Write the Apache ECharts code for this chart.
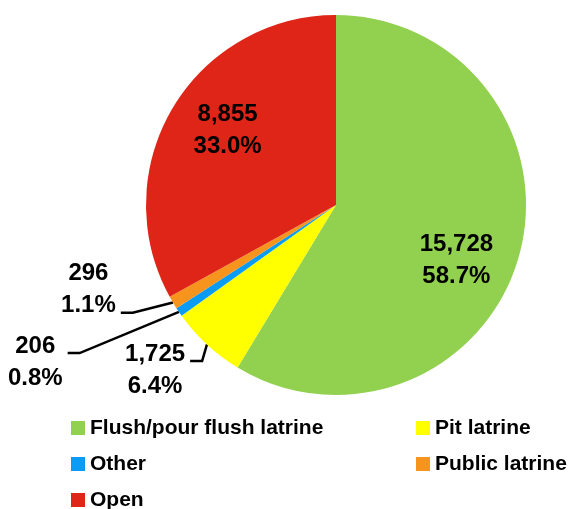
<!DOCTYPE html>
<html><head><meta charset="utf-8">
<script src="https://cdn.jsdelivr.net/npm/echarts@6/dist/echarts.min.js"></script>
<style>html,body{margin:0;padding:0;background:#fff}#c{width:568px;height:509px}</style>
</head><body><div id="c"></div>
<script>
// Data
const categories = ['Flush/pour flush latrine', 'Pit latrine', 'Other', 'Public latrine', 'Open'];
const values = [15728, 1725, 206, 296, 8855];
const colors = ['#92D050', '#FFFF00', '#0A9CF5', '#F7941D', '#DF2517'];
const legendCol1 = ['Flush/pour flush latrine', 'Other', 'Open'];
const legendCol2 = ['Pit latrine', 'Public latrine'];

const FONT = '"Liberation Sans", Arial, sans-serif';

// Label styling per slice (layout only)
const labelCfg = {
  'Flush/pour flush latrine': { label: { position: 'inside', offset: [26, 29] } },
  'Pit latrine': { label: { position: 'outside', padding: [18, 0, 0, 0] }, labelLine: { length: 22.6, length2: 1.5 } },
  'Other': { label: { position: 'outside', padding: [18, 0, 0, 0] }, labelLine: { length: 73, length2: 51 } },
  'Public latrine': { label: { position: 'outside', padding: [0, 0, 46, 0] }, labelLine: { length: 20, length2: 35 } },
  'Open': { label: { position: 'inside', offset: [-24, -25] } }
};
const HSEG = 12; // horizontal part of leader lines

const fmt = v => v.toLocaleString('en-US');

const data = categories.map((name, i) => Object.assign({
  name: name,
  value: values[i],
  itemStyle: { color: colors[i] }
}, labelCfg[name]));

const chart = echarts.init(document.getElementById('c'), null, { renderer: 'canvas' });
const legendBase = {
  orient: 'vertical',
  icon: 'rect',
  itemWidth: 14,
  itemHeight: 14,
  itemGap: 14,
  top: 412,
  height: 100,
  textStyle: { fontFamily: FONT, fontWeight: 'bold', fontSize: 21, color: '#000', lineHeight: 22 },
  selectedMode: false
};
chart.setOption({
  animation: false,
  backgroundColor: '#fff',
  legend: [
    Object.assign({}, legendBase, { left: 66, data: legendCol1 }),
    Object.assign({}, legendBase, { left: 411, data: legendCol2 })
  ],
  series: [{
    type: 'pie',
    center: [336, 205],
    radius: 190,
    startAngle: 90,
    clockwise: true,
    avoidLabelOverlap: false,
    percentPrecision: 1,
    itemStyle: { borderWidth: 0 },
    label: {
      show: true,
      color: '#000',
      fontFamily: FONT,
      fontWeight: 'bold',
      fontSize: 24,
      lineHeight: 32,
      formatter: p => '{a|' + fmt(p.value) + '}\n{a|' + p.percent.toFixed(1) + '%}',
      rich: {
        a: { align: 'center', fontFamily: FONT, fontWeight: 'bold', fontSize: 24, lineHeight: 32, color: '#000' }
      }
    },
    labelLine: {
      show: true,
      smooth: false,
      lineStyle: { color: '#000', width: 2.5 }
    },
    labelLayout: function (params) {
      const pts = params.labelLinePoints;
      if (!pts || pts.length < 3) return { hideOverlap: false };
      const end = pts[2];
      const dir = end[0] < pts[1][0] ? 1 : -1;
      return {
        hideOverlap: false,
        labelLinePoints: [pts[0], [end[0] + dir * HSEG, end[1]], end]
      };
    },
    emphasis: { disabled: true },
    data: data
  }]
});
</script>
</body></html>
